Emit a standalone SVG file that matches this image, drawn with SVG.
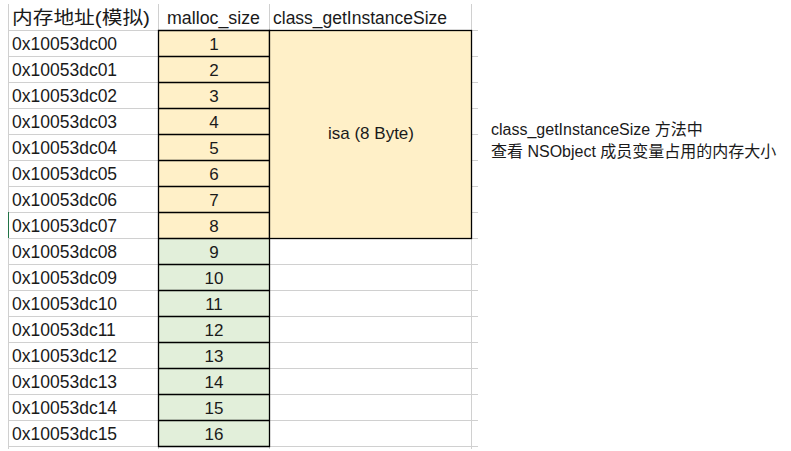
<svg xmlns="http://www.w3.org/2000/svg" width="791" height="451" viewBox="0 0 791 451">
  <style>
    .t { font-family: "Liberation Sans", "Noto Sans CJK SC", sans-serif; fill: #1a1a1a; }
    .addr { font-size: 17.5px; }
    .hdr { font-size: 17.5px; }
    .num { font-size: 17px; text-anchor: middle; }
    .note { font-size: 16px; }
    .grid { stroke: #d0d0d0; stroke-width: 1; fill: none; }
    .cell { stroke: #000; stroke-width: 1.3; }
    .orange { fill: #fff0c8; }
    .green { fill: #e2efda; }
  </style>
  <rect width="791" height="451" fill="#ffffff"/>

  <!-- sheet gridlines -->
  <g id="gridlines" class="grid">
    <path d="M8.5 4V449M158.5 4V449M269.5 4V449M471.5 4V449"/>
    <path d="M8 30.5H478M8 56.5H478M8 82.5H478M8 108.5H478M8 134.5H478M8 160.5H478M8 186.5H478M8 212.5H478M8 238.5H478M8 264.5H478M8 290.5H478M8 316.5H478M8 342.5H478M8 368.5H478M8 394.5H478M8 420.5H478M8 446.5H478"/>
    <path d="M8.5 212V238" stroke="#217346"/>
  </g>

  <!-- header row -->
  <g id="header" class="t hdr">
    <text x="12" y="24" font-size="18" textLength="138" lengthAdjust="spacingAndGlyphs">内存地址(模拟)</text>
    <text x="167" y="24" textLength="93" lengthAdjust="spacingAndGlyphs">malloc_size</text>
    <text x="273" y="24" textLength="174" lengthAdjust="spacingAndGlyphs">class_getInstanceSize</text>
  </g>

  <!-- address column -->
  <g id="addresses" class="t addr">
    <text x="12" y="50">0x10053dc00</text>
    <text x="12" y="76">0x10053dc01</text>
    <text x="12" y="102">0x10053dc02</text>
    <text x="12" y="128">0x10053dc03</text>
    <text x="12" y="154">0x10053dc04</text>
    <text x="12" y="180">0x10053dc05</text>
    <text x="12" y="206">0x10053dc06</text>
    <text x="12" y="232">0x10053dc07</text>
    <text x="12" y="258">0x10053dc08</text>
    <text x="12" y="284">0x10053dc09</text>
    <text x="12" y="310">0x10053dc10</text>
    <text x="12" y="336">0x10053dc11</text>
    <text x="12" y="362">0x10053dc12</text>
    <text x="12" y="388">0x10053dc13</text>
    <text x="12" y="414">0x10053dc14</text>
    <text x="12" y="440">0x10053dc15</text>
  </g>

  <!-- malloc_size bytes: first 8 used by isa, last 8 padding -->
  <g id="malloc-bytes">
    <rect class="orange" x="158.5" y="30.5" width="111" height="208"/>
    <rect class="green" x="158.5" y="238.5" width="111" height="208"/>
    <path class="cell" fill="none" d="M158.5 30.5H269.5V446.5H158.5Z M158.5 56.5H269.5M158.5 82.5H269.5M158.5 108.5H269.5M158.5 134.5H269.5M158.5 160.5H269.5M158.5 186.5H269.5M158.5 212.5H269.5M158.5 238.5H269.5M158.5 264.5H269.5M158.5 290.5H269.5M158.5 316.5H269.5M158.5 342.5H269.5M158.5 368.5H269.5M158.5 394.5H269.5M158.5 420.5H269.5"/>
    <g class="t num">
      <text x="214" y="50">1</text>
      <text x="214" y="76">2</text>
      <text x="214" y="102">3</text>
      <text x="214" y="128">4</text>
      <text x="214" y="154">5</text>
      <text x="214" y="180">6</text>
      <text x="214" y="206">7</text>
      <text x="214" y="232">8</text>
      <text x="214" y="258">9</text>
      <text x="214" y="284">10</text>
      <text x="214" y="310">11</text>
      <text x="214" y="336">12</text>
      <text x="214" y="362">13</text>
      <text x="214" y="388">14</text>
      <text x="214" y="414">15</text>
      <text x="214" y="440">16</text>
    </g>
  </g>

  <!-- class_getInstanceSize merged cell -->
  <g id="instance-size">
    <rect class="orange cell" x="269.5" y="30.5" width="202" height="208"/>
    <text class="t" x="371" y="139" font-size="17" text-anchor="middle">isa (8 Byte)</text>
  </g>

  <!-- side note -->
  <g id="note" class="t note">
    <text x="491" y="135">class_getInstanceSize 方法中</text>
    <text x="491" y="157">查看 NSObject 成员变量占用的内存大小</text>
  </g>
</svg>
